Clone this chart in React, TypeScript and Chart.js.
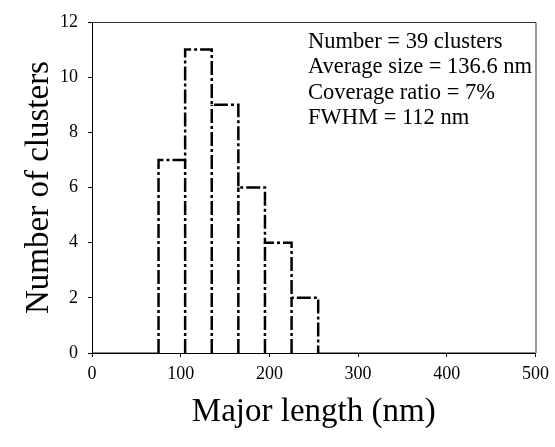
import React, { useEffect, useRef } from "react";
import { Chart, registerables } from "chart.js";

Chart.register(...registerables);

const binEdges = [75, 105, 135, 165, 195, 225, 255];
const counts = [7, 11, 9, 6, 4, 2];
const xTicks = [0, 100, 200, 300, 400, 500];
const yTicks = [0, 2, 4, 6, 8, 10, 12];
const statsLines = [
  "Number = 39 clusters",
  "Average size = 136.6 nm",
  "Coverage ratio = 7%",
  "FWHM = 112 nm",
];
const xMin = 0;
const xMax = 500;

const SERIF = "'Liberation Serif', 'Times New Roman', serif";

export default function App() {
  const ref = useRef<HTMLCanvasElement | null>(null);

  useEffect(() => {
    if (!ref.current) return;

    // outer outline of the histogram
    const histPoints: { x: number; y: number }[] = [];
    histPoints.push({ x: binEdges[0], y: 0 });
    for (let i = 0; i < counts.length; i++) {
      histPoints.push({ x: binEdges[i], y: counts[i] });
    }
    histPoints.push({ x: binEdges[binEdges.length - 1], y: 0 });

    // interior bar edges down to the axis
    const innerEdges: any[] = [];
    for (let i = 1; i < counts.length; i++) {
      const h = Math.min(counts[i - 1], counts[i]);
      innerEdges.push({ x: binEdges[i], y: 0 });
      innerEdges.push({ x: binEdges[i], y: h });
      innerEdges.push({ x: binEdges[i], y: null });
    }

    const baseline = [
      { x: xMin, y: 0 },
      { x: binEdges[0], y: 0 },
      { x: binEdges[0], y: null as any },
      { x: binEdges[binEdges.length - 1], y: 0 },
      { x: xMax, y: 0 },
    ];

    const boxPlugin = {
      id: "boxAndText",
      afterDraw(chart: any) {
        const { ctx, chartArea } = chart;
        ctx.save();
        ctx.strokeStyle = "#333";
        ctx.lineWidth = 1;
        ctx.beginPath();
        ctx.moveTo(chartArea.left, chartArea.top + 0.5);
        ctx.lineTo(chartArea.right + 0.5, chartArea.top + 0.5);
        ctx.lineTo(chartArea.right + 0.5, chartArea.bottom);
        ctx.stroke();
        ctx.fillStyle = "#000";
        ctx.font = `22.5px ${SERIF}`;
        ctx.textBaseline = "middle";
        ctx.textAlign = "left";
        statsLines.forEach((t, i) => {
          ctx.fillText(t, chartArea.left + 216, chartArea.top + 20 + i * 25.5);
        });
        ctx.restore();
      },
    };

    const dash = [14, 3, 3, 3];

    const chart = new Chart(ref.current, {
      type: "line",
      data: {
        datasets: [
          {
            data: baseline as any,
            borderColor: "#111",
            borderWidth: 1.2,
            pointRadius: 0,
            spanGaps: false,
          },
          {
            data: histPoints as any,
            stepped: "before",
            borderColor: "#000",
            borderWidth: 2.5,
            borderDash: dash,
            pointRadius: 0,
          },
          {
            data: innerEdges,
            borderColor: "#000",
            borderWidth: 2.5,
            borderDash: dash,
            pointRadius: 0,
            spanGaps: false,
          },
        ],
      },
      options: {
        responsive: false,
        animation: false,
        devicePixelRatio: 1,
        layout: { padding: { left: 0, right: 19, top: 22, bottom: 0 } },
        plugins: {
          legend: { display: false },
          tooltip: { enabled: false },
        },
        scales: {
          x: {
            type: "linear",
            min: xMin,
            max: xMax,
            afterBuildTicks: (s: any) => {
              s.ticks = xTicks.map((v) => ({ value: v }));
            },
            afterFit: (s: any) => {
              s.height = 94;
            },
            grid: {
              display: true,
              drawOnChartArea: false,
              drawTicks: true,
              tickLength: 4,
              color: "#000",
            },
            border: { display: true, color: "#000", width: 1 },
            ticks: {
              color: "#000",
              font: { family: SERIF, size: 18 },
              padding: 6,
              maxRotation: 0,
            },
            title: {
              display: true,
              text: "Major length (nm)",
              color: "#000",
              font: { family: SERIF, size: 33, lineHeight: 1.2 },
              padding: { top: 0, bottom: 15 },
            },
          },
          y: {
            type: "linear",
            min: 0,
            max: 12,
            afterBuildTicks: (s: any) => {
              s.ticks = yTicks.map((v) => ({ value: v }));
            },
            afterFit: (s: any) => {
              s.width = 92;
            },
            grid: {
              display: true,
              drawOnChartArea: false,
              drawTicks: true,
              tickLength: 4,
              color: "#000",
            },
            border: { display: true, color: "#000", width: 1 },
            ticks: {
              color: "#000",
              font: { family: SERIF, size: 18 },
              padding: 10,
            },
            title: {
              display: true,
              text: "Number of clusters",
              color: "#000",
              font: { family: SERIF, size: 33, lineHeight: 1.2 },
              padding: { top: 20, bottom: 0 },
            },
          },
        },
      },
      plugins: [boxPlugin],
    });

    return () => chart.destroy();
  }, []);

  return (
    <div style={{ position: "fixed", left: 0, top: 0, width: 555, height: 447, background: "#fff" }}>
      <canvas ref={ref} width={555} height={447} />
    </div>
  );
}
